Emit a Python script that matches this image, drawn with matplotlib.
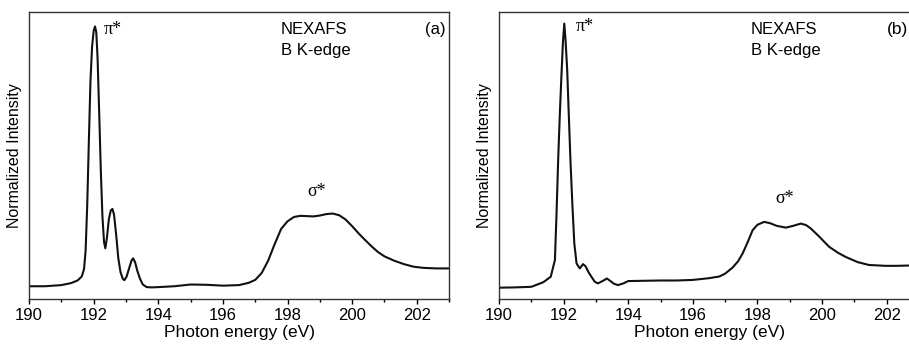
import matplotlib
matplotlib.use('Agg')
import matplotlib.pyplot as plt
from matplotlib.ticker import MultipleLocator

# Panel (a): energy (eV) and normalized intensity
energy_a = [190.0, 190.5, 191.0, 191.3, 191.5, 191.63, 191.7, 191.75, 191.8, 191.85,
            191.9, 191.95, 192.0, 192.04, 192.08, 192.12, 192.17, 192.22, 192.27, 192.32,
            192.36, 192.41, 192.47, 192.53, 192.58, 192.63, 192.7, 192.76, 192.83, 192.9,
            192.95, 193.02, 193.1, 193.17, 193.22, 193.28, 193.35, 193.43, 193.52, 193.64,
            193.8, 194.0, 194.5, 195.0, 195.5, 196.0, 196.5, 196.8, 197.0, 197.2,
            197.4, 197.6, 197.8, 198.0, 198.2, 198.4, 198.6, 198.8, 199.0, 199.2,
            199.4, 199.6, 199.8, 200.0, 200.2, 200.4, 200.6, 200.8, 201.0, 201.3,
            201.6, 201.9, 202.2, 202.6, 203.0]
inten_a = [0.046, 0.046, 0.050, 0.057, 0.066, 0.080, 0.105, 0.170, 0.330, 0.550,
           0.760, 0.880, 0.935, 0.950, 0.930, 0.840, 0.650, 0.450, 0.290, 0.200,
           0.178, 0.215, 0.280, 0.310, 0.315, 0.295, 0.220, 0.145, 0.095, 0.072,
           0.067, 0.080, 0.110, 0.135, 0.143, 0.130, 0.100, 0.073, 0.052, 0.043,
           0.042, 0.043, 0.046, 0.052, 0.051, 0.048, 0.050, 0.058, 0.068, 0.092,
           0.135, 0.192, 0.245, 0.272, 0.287, 0.291, 0.290, 0.289, 0.292, 0.297,
           0.299, 0.293, 0.278, 0.255, 0.230, 0.207, 0.185, 0.165, 0.150, 0.135,
           0.123, 0.114, 0.110, 0.108, 0.108]

# Panel (b)
energy_b = [190.0, 190.5, 191.0, 191.37, 191.6, 191.73, 191.78, 191.83, 191.88, 191.93,
            191.98, 192.02, 192.06, 192.11, 192.16, 192.21, 192.27, 192.33, 192.4, 192.5,
            192.6, 192.68, 192.77, 192.86, 192.96, 193.06, 193.17, 193.34, 193.45, 193.55,
            193.68, 193.85, 194.0, 194.5, 195.0, 195.5, 196.0, 196.5, 196.82, 197.0,
            197.23, 197.4, 197.54, 197.7, 197.85, 198.0, 198.21, 198.4, 198.6, 198.88,
            199.1, 199.34, 199.5, 199.65, 199.9, 200.22, 200.5, 200.73, 201.1, 201.45,
            201.97, 202.3, 202.66, 203.0]
inten_b = [0.041, 0.042, 0.044, 0.060, 0.079, 0.137, 0.300, 0.485, 0.640, 0.775,
           0.900, 0.960, 0.900, 0.798, 0.640, 0.485, 0.330, 0.195, 0.125, 0.108,
           0.123, 0.115, 0.095, 0.079, 0.062, 0.056, 0.062, 0.073, 0.064, 0.055,
           0.050, 0.056, 0.064, 0.065, 0.066, 0.066, 0.068, 0.074, 0.080, 0.090,
           0.111, 0.133, 0.160, 0.200, 0.241, 0.260, 0.270, 0.265, 0.256, 0.250,
           0.256, 0.264, 0.259, 0.247, 0.220, 0.183, 0.162, 0.148, 0.130, 0.120,
           0.117, 0.117, 0.118, 0.120]

sans = 'Liberation Sans'
serif = 'Liberation Serif'

fig = plt.figure(figsize=(9.09, 3.45), dpi=100)
ax_a = fig.add_axes([0.032, 0.132, 0.462, 0.833])
ax_b = fig.add_axes([0.549, 0.132, 0.462, 0.833])

panels = [
    (ax_a, energy_a, inten_a, (192.3, 0.94), (198.9, 0.375)),
    (ax_b, energy_b, inten_b, (192.37, 0.95), (198.85, 0.35)),
]

for ax, x, y, pi_pos, sig_pos in panels:
    ax.plot(x, y, color='#111111', lw=1.5, solid_joinstyle='round')
    ax.set_xlim(190, 203)
    ax.set_ylim(0, 1)
    ax.set_yticks([])
    ax.xaxis.set_major_locator(MultipleLocator(2))
    ax.xaxis.set_minor_locator(MultipleLocator(1))
    ax.tick_params(axis='x', which='major', length=3.5, width=1, pad=3, labelsize=12)
    ax.tick_params(axis='x', which='minor', length=2.5, width=1)
    for lbl in ax.get_xticklabels():
        lbl.set_fontfamily(sans)
    for sp in ax.spines.values():
        sp.set_color('#333333')
        sp.set_linewidth(1.0)
    ax.set_xlabel('Photon energy (eV)', fontsize=12.5, family=sans, labelpad=1)
    ax.set_ylabel('Normalized Intensity', fontsize=11.5, family=sans, labelpad=5)
    ax.text(pi_pos[0], pi_pos[1], 'π*', fontsize=13, family=serif, ha='left', va='center')
    ax.text(sig_pos[0], sig_pos[1], 'σ*', fontsize=13, family=serif, ha='center', va='center')
    ax.text(197.8, 0.94, 'NEXAFS', fontsize=12, family=sans, ha='left', va='center')
    ax.text(197.8, 0.865, 'B K-edge', fontsize=12, family=sans, ha='left', va='center')

ax_a.text(202.9, 0.94, '(a)', fontsize=12, family=sans, ha='right', va='center')
ax_b.text(202.0, 0.94, '(b)', fontsize=12.5, family=sans, ha='left', va='center')

fig.savefig('out.png', dpi=100)
